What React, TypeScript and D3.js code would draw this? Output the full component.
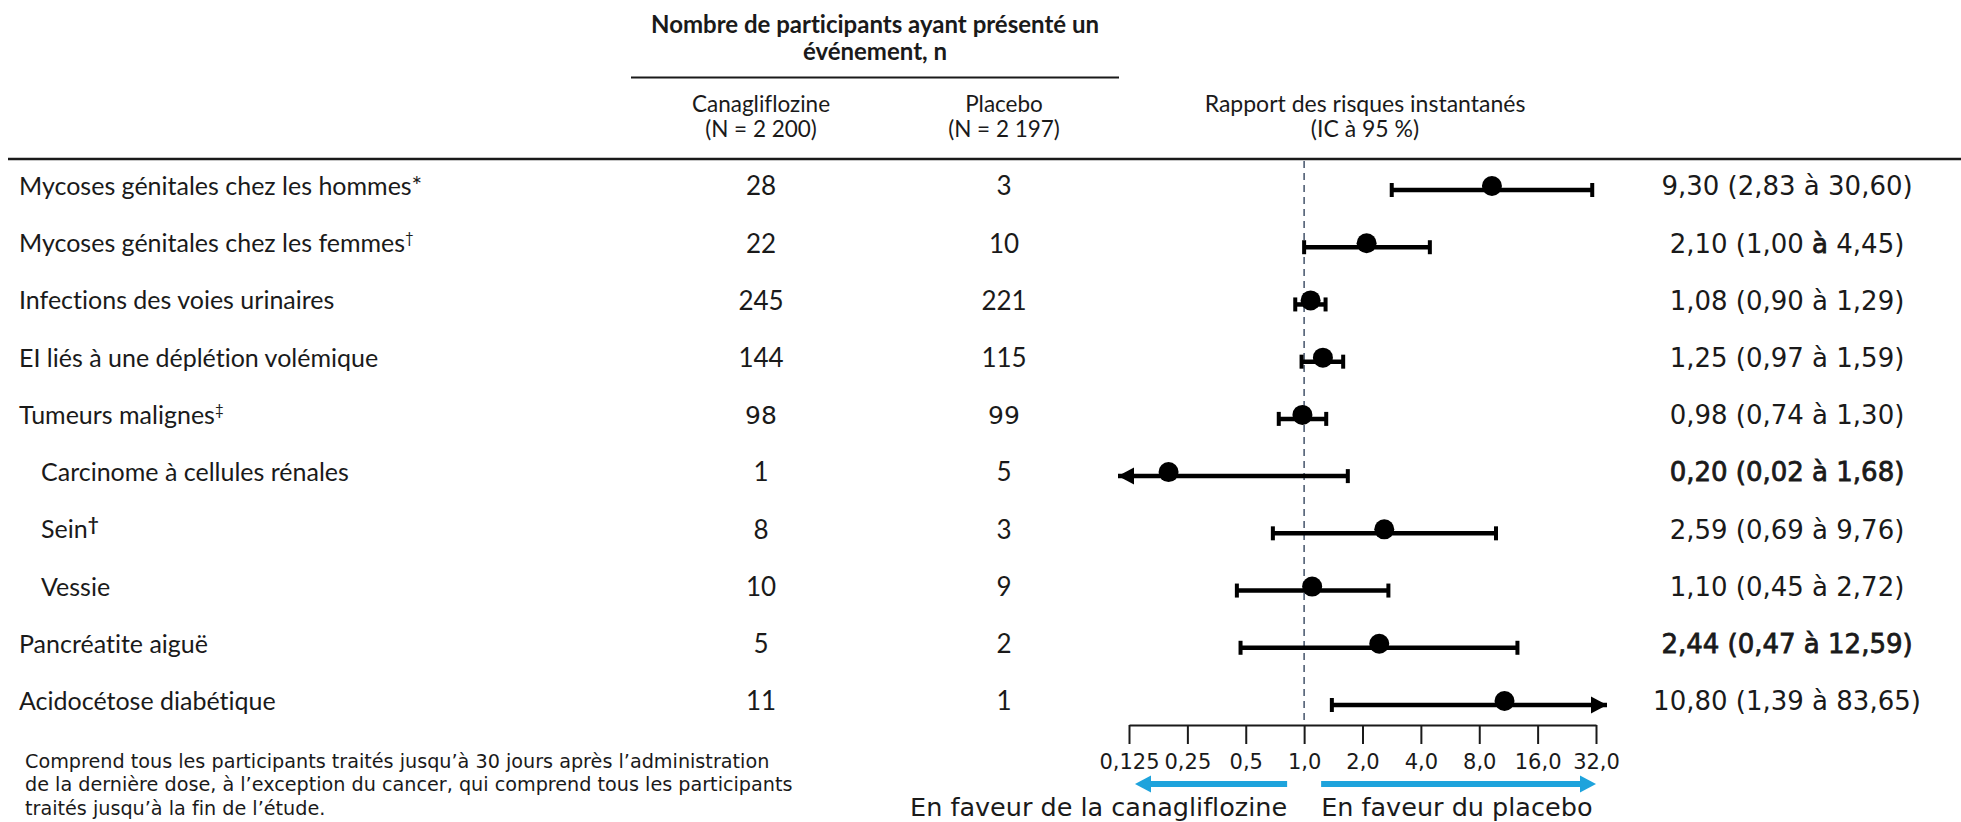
import React, { useEffect, useRef } from "react";
import * as d3 from "d3";

// Events table and hazard ratios (canagliflozine vs placebo)
const categories = [
  "Mycoses génitales chez les hommes",
  "Mycoses génitales chez les femmes",
  "Infections des voies urinaires",
  "EI liés à une déplétion volémique",
  "Tumeurs malignes",
  "Carcinome à cellules rénales",
  "Sein",
  "Vessie",
  "Pancréatite aiguë",
  "Acidocétose diabétique",
];
const footMarks = ["*", "†", "", "", "‡", "", "†", "", "", ""];
const isSubgroup = [false, false, false, false, false, true, true, true, false, false];
const canaEvents = [28, 22, 245, 144, 98, 1, 8, 10, 5, 11];
const placeboEvents = [3, 10, 221, 115, 99, 5, 3, 9, 2, 1];
const hazardRatio = [9.3, 2.1, 1.08, 1.25, 0.98, 0.2, 2.59, 1.1, 2.44, 10.8];
const ciLower = [2.83, 1.0, 0.9, 0.97, 0.74, 0.02, 0.69, 0.45, 0.47, 1.39];
const ciUpper = [30.6, 4.45, 1.29, 1.59, 1.3, 1.68, 9.76, 2.72, 12.59, 83.65];
const boldValueRows = [5, 8];
const boldCountRows = [4];
const boldJoinRows = [1];

const axisTicks = [0.125, 0.25, 0.5, 1, 2, 4, 8, 16, 32];
const tickLabels = ["0,125", "0,25", "0,5", "1,0", "2,0", "4,0", "8,0", "16,0", "32,0"];

const footnote = [
  "Comprend tous les participants traités jusqu’à 30 jours après l’administration",
  "de la dernière dose, à l’exception du cancer, qui comprend tous les participants",
  "traités jusqu’à la fin de l’étude.",
];

const LABEL_FONT = "Lato, 'Open Sans', sans-serif";
const VALUE_FONT = "'DejaVu Sans', Verdana, sans-serif";
const INK = "#1a1a1a";
const BLUE = "#1ea3dc";

const fmt2 = (v: number) => d3.format(".2f")(v).replace(".", ",");

export default function App() {
  const axisRef = useRef<SVGGElement>(null);
  const W = 1961;
  const H = 822;

  const x = d3.scaleLog().domain([0.125, 32]).range([1129, 1596]);
  const y = d3
    .scalePoint<number>()
    .domain(d3.range(categories.length))
    .range([186, 701]);

  const ruleY = 159;
  const axisY = 725;
  const colCana = 761;
  const colPlacebo = 1004;
  const colValue = 1787;
  const [xMin, xMax] = x.range();
  const overshoot = 11;

  useEffect(() => {
    if (!axisRef.current) return;
    const g = d3.select(axisRef.current);
    g.call(
      d3
        .axisBottom(x)
        .tickValues(axisTicks)
        .tickFormat((_d, i) => tickLabels[i])
        .tickSize(19)
        .tickPadding(10)
        .tickSizeOuter(0)
    );
    g.select(".domain").attr("stroke", INK).attr("stroke-width", 2);
    g.selectAll(".tick line").attr("stroke", INK).attr("stroke-width", 2);
    g.selectAll(".tick text")
      .attr("font-family", VALUE_FONT)
      .attr("font-size", 21)
      .attr("fill", INK);
  }, []);

  const arrowHead = (tipX: number, cy: number, dir: number) => {
    const len = 16;
    const half = 8.5;
    return `M${tipX},${cy} L${tipX - dir * len},${cy - half} L${tipX - dir * len},${cy + half} Z`;
  };

  // semi-bold look: regular glyphs with a thin outline
  const semiBold = { stroke: INK, strokeWidth: 0.8 };

  return (
    <svg
      width={W}
      height={H}
      style={{
        position: "absolute",
        left: 0,
        top: 0,
        background: "#fff",
        fontVariantLigatures: "none",
      }}
    >
      {/* column headers */}
      <g fontFamily={LABEL_FONT} fill={INK} textAnchor="middle">
        <text x={875} y={25} dy="0.35em" fontSize={24} fontWeight={700}>
          Nombre de participants ayant présenté un
        </text>
        <text x={875} y={52} dy="0.35em" fontSize={24} fontWeight={700}>
          événement, n
        </text>
        <text x={colCana} y={104} dy="0.35em" fontSize={22.5}>Canagliflozine</text>
        <text x={colCana} y={129} dy="0.35em" fontSize={22.5}>(N = 2 200)</text>
        <text x={colPlacebo} y={104} dy="0.35em" fontSize={22.5}>Placebo</text>
        <text x={colPlacebo} y={129} dy="0.35em" fontSize={22.5}>(N = 2 197)</text>
        <text x={1365} y={104} dy="0.35em" fontSize={23}>Rapport des risques instantanés</text>
        <text x={1365} y={129} dy="0.35em" fontSize={23}>(IC à 95 %)</text>
      </g>
      <line x1={631} x2={1119} y1={77.5} y2={77.5} stroke={INK} strokeWidth={2} />
      <line x1={8} x2={W} y1={ruleY} y2={ruleY} stroke={INK} strokeWidth={2.5} />

      {/* reference line at HR = 1 */}
      <line
        x1={x(1)}
        x2={x(1)}
        y1={ruleY + 2}
        y2={axisY}
        stroke="#4f5d73"
        strokeWidth={1.6}
        strokeDasharray="7 5"
      />

      {/* rows */}
      {categories.map((name, i) => {
        const cy = y(i) as number;
        const ly = cy + 4;
        const lowOut = ciLower[i] < x.domain()[0];
        const highOut = ciUpper[i] > x.domain()[1];
        const x1 = lowOut ? xMin - overshoot : x(ciLower[i]);
        const x2 = highOut ? xMax + overshoot : x(ciUpper[i]);
        const valueBold = boldValueRows.includes(i);
        const joinBold = boldJoinRows.includes(i) || valueBold;
        return (
          <g key={name}>
            <text
              x={isSubgroup[i] ? 41 : 19}
              y={cy}
              dy="0.36em"
              fontFamily={LABEL_FONT}
              fontSize={25}
              fill={INK}
            >
              {name}
              {footMarks[i] === "*" ? (
                <tspan>*</tspan>
              ) : footMarks[i] ? (
                <tspan
                  fontSize={isSubgroup[i] ? 19 : 15}
                  baselineShift={isSubgroup[i] ? "35%" : "60%"}
                  fontWeight={isSubgroup[i] ? 700 : 400}
                >
                  {footMarks[i]}
                </tspan>
              ) : null}
            </text>
            {boldCountRows.includes(i) ? (
              <g fontFamily={VALUE_FONT} fontSize={25} fill={INK} textAnchor="middle">
                <text x={colCana} y={cy} dy="0.36em">{canaEvents[i]}</text>
                <text x={colPlacebo} y={cy} dy="0.36em">{placeboEvents[i]}</text>
              </g>
            ) : (
              <g fontFamily={LABEL_FONT} fontSize={26} fill={INK} textAnchor="middle">
                <text x={colCana} y={cy} dy="0.36em">{canaEvents[i]}</text>
                <text x={colPlacebo} y={cy} dy="0.36em">{placeboEvents[i]}</text>
              </g>
            )}

            {/* confidence interval */}
            <line x1={x1} x2={x2} y1={ly} y2={ly} stroke="#000" strokeWidth={4.5} />
            {lowOut ? (
              <path d={arrowHead(x1, ly, -1)} fill="#000" />
            ) : (
              <rect x={x1 - 2} y={ly - 7} width={4} height={14} fill="#000" />
            )}
            {highOut ? (
              <path d={arrowHead(x2, ly, 1)} fill="#000" />
            ) : (
              <rect x={x2 - 2} y={ly - 7} width={4} height={14} fill="#000" />
            )}
            <circle cx={x(hazardRatio[i])} cy={cy} r={10} fill="#000" />

            <text
              x={colValue}
              y={cy}
              dy="0.36em"
              textAnchor="middle"
              fontFamily={VALUE_FONT}
              fontSize={26}
              fill={INK}
              {...(valueBold ? semiBold : {})}
            >
              {`${fmt2(hazardRatio[i])} (${fmt2(ciLower[i])} `}
              <tspan {...(joinBold ? semiBold : {})}>à</tspan>
              {` ${fmt2(ciUpper[i])})`}
            </text>
          </g>
        );
      })}

      {/* log axis */}
      <g ref={axisRef} transform={`translate(0,${axisY})`} />

      {/* direction arrows */}
      <line x1={x(1) - 17} x2={xMin + 20} y1={784} y2={784} stroke={BLUE} strokeWidth={6} />
      <path d={arrowHead(xMin + 6, 784, -1)} fill={BLUE} />
      <line x1={x(1) + 17} x2={xMax - 14} y1={784} y2={784} stroke={BLUE} strokeWidth={6} />
      <path d={arrowHead(xMax, 784, 1)} fill={BLUE} />
      <g fontFamily={VALUE_FONT} fontSize={25.5} fill={INK}>
        <text x={x(1) - 17} y={807} dy="0.36em" textAnchor="end">
          En faveur de la canagliflozine
        </text>
        <text x={x(1) + 17} y={807} dy="0.36em" textAnchor="start">
          En faveur du placebo
        </text>
      </g>

      {/* footnote */}
      <g fontFamily={VALUE_FONT} fontSize={19.2} fill={INK}>
        {footnote.map((line, i) => (
          <text key={i} x={25} y={761 + i * 23.3} dy="0.36em">
            {line}
          </text>
        ))}
      </g>
    </svg>
  );
}
